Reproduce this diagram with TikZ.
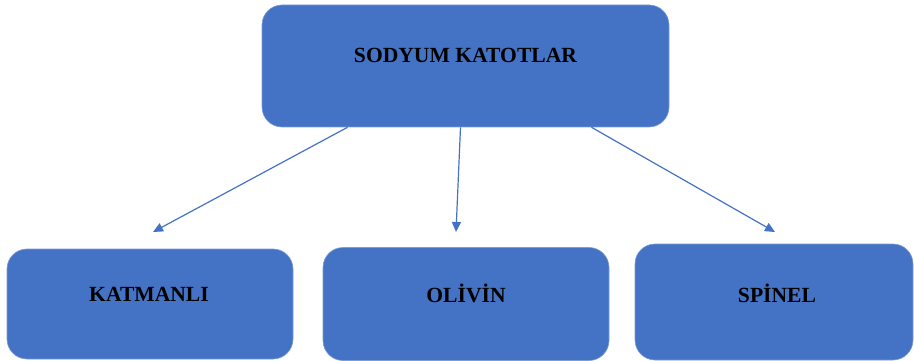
\documentclass[tikz,border=0pt]{standalone}
\usepackage{fontspec}
\setmainfont{Liberation Serif}
\usetikzlibrary{arrows.meta,calc}
\definecolor{officeblue}{HTML}{4472C4}
\tikzset{
  boxnode/.style={fill=officeblue, draw=officeblue!70!white, line width=0.6pt, rounded corners=20pt, inner sep=0pt},
  labeltext/.style={font=\fontsize{21.6}{24}\selectfont\bfseries, text=black, inner sep=0pt},
  conn/.style={draw=officeblue, line width=1.2pt, -{Triangle[length=10pt,width=9pt]}}
}
\begin{document}
\begin{tikzpicture}[x=1pt,y=-1pt]
\useasboundingbox (0,0) rectangle (914,361);
\node[boxnode, minimum width=407pt, minimum height=122pt] (top) at (465.5,66) {};
\node[boxnode, minimum width=286pt, minimum height=110pt] (left) at (150,304) {};
\node[boxnode, minimum width=286pt, minimum height=113pt] (mid) at (466,304) {};
\node[boxnode, minimum width=278pt, minimum height=116pt] (right) at (774,302) {};
\node[labeltext] (ttop) at (465.5,55) {SODYUM KATOTLAR};
\node[labeltext] (tleft) at (149,294) {KATMANLI};
\node[labeltext] (tmid) at (466,293) {OL\.{I}V\.{I}N};
\node[labeltext] (tright) at (777,293) {SP\.{I}NEL};
\coordinate (e1) at (153,232);
\coordinate (e2) at (456,232);
\coordinate (e3) at (775,232);
\draw[conn] ([xshift=-118pt]top.south) -- (e1);
\draw[conn] ([xshift=-5pt]top.south) -- (e2);
\draw[conn] ([xshift=126pt]top.south) -- (e3);
\end{tikzpicture}
\end{document}
